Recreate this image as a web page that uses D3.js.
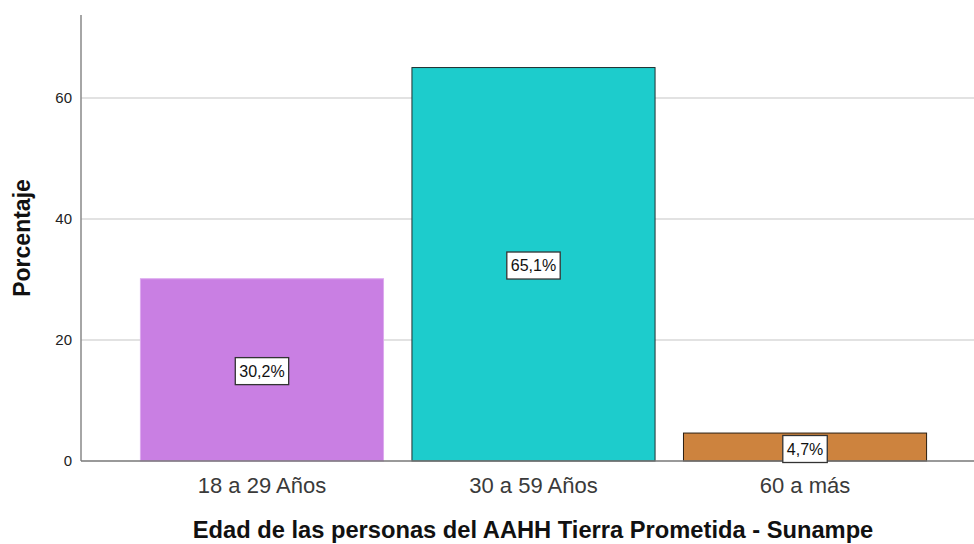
<!DOCTYPE html>
<html>
<head>
<meta charset="utf-8">
<script src="https://cdn.jsdelivr.net/npm/d3@7"></script>
<style>
  body { margin: 0; background: #fff; }
  svg { font-family: "Liberation Sans", Arial, sans-serif; }
</style>
</head>
<body>
<svg id="chart" width="974" height="544"></svg>
<script>
// Data
const categories = ['18 a 29 Años', '30 a 59 Años', '60 a más'];
const values = [30.2, 65.1, 4.7];
const valueLabels = ['30,2%', '65,1%', '4,7%'];
const barColors = ['#c97fe3', '#1dcccc', '#cd833e'];
const barStrokes = ['#dca9ee', '#1f2f2f', '#2a1d10'];
const yTicks = [0, 20, 40, 60];

const svg = d3.select('#chart');
const y0 = 461, axisX = 81;

const y = d3.scaleLinear().domain([0, 73.7]).range([y0, 15]);
const x = d3.scaleBand()
    .domain(categories)
    .range([axisX, 986])
    .paddingInner(0.101)
    .paddingOuter(0.217);

// Gridlines
svg.append('g').selectAll('line')
    .data(yTicks.filter(d => d > 0))
    .enter().append('line')
    .attr('x1', axisX).attr('x2', 974)
    .attr('y1', d => y(d)).attr('y2', d => y(d))
    .attr('stroke', '#d9d9d9').attr('stroke-width', 1.5);

// Bars
svg.append('g').selectAll('rect')
    .data(values)
    .enter().append('rect')
    .attr('x', (d, i) => x(categories[i]) + 0.5)
    .attr('y', d => y(d) + 0.5)
    .attr('width', x.bandwidth() - 1)
    .attr('height', d => y0 - y(d) - 0.5)
    .attr('fill', (d, i) => barColors[i])
    .attr('stroke', (d, i) => barStrokes[i])
    .attr('stroke-width', 1);

// Axes lines
svg.append('line')
    .attr('x1', axisX).attr('x2', axisX)
    .attr('y1', 15).attr('y2', y0)
    .attr('stroke', '#888').attr('stroke-width', 1.5);
svg.append('line')
    .attr('x1', axisX).attr('x2', 974)
    .attr('y1', y0).attr('y2', y0)
    .attr('stroke', '#777').attr('stroke-width', 1.5);

// Y tick labels
svg.append('g').selectAll('text')
    .data(yTicks)
    .enter().append('text')
    .attr('x', 72)
    .attr('y', d => y(d))
    .attr('dy', '0.35em')
    .attr('text-anchor', 'end')
    .style('font-size', '15px')
    .style('fill', '#222')
    .text(d => d);

// X tick labels
svg.append('g').selectAll('text')
    .data(categories)
    .enter().append('text')
    .attr('x', d => x(d) + x.bandwidth() / 2)
    .attr('y', 493)
    .attr('text-anchor', 'middle')
    .style('font-size', '22px')
    .style('fill', '#3a3a3a')
    .text(d => d);

// Value labels with boxes
const lbl = svg.append('g').selectAll('g')
    .data(values)
    .enter().append('g')
    .attr('transform', (d, i) => {
        const cx = x(categories[i]) + x.bandwidth() / 2;
        const cy = i === 2 ? 449 : (y(d) + y0) / 2 + 1.5;
        return `translate(${cx},${cy})`;
    });

lbl.append('text')
    .attr('text-anchor', 'middle')
    .attr('dy', '0.35em')
    .style('font-size', '16px')
    .style('fill', '#111')
    .text((d, i) => valueLabels[i]);

lbl.each(function() {
    const g = d3.select(this);
    const bb = g.select('text').node().getBBox();
    g.insert('rect', 'text')
        .attr('x', bb.x - 4)
        .attr('y', -13.5)
        .attr('width', bb.width + 8)
        .attr('height', 27)
        .attr('fill', '#fff')
        .attr('stroke', '#333')
        .attr('stroke-width', 1.3);
});

// Axis titles
svg.append('text')
    .attr('transform', 'translate(30,238) rotate(-90)')
    .attr('text-anchor', 'middle')
    .style('font-size', '23px')
    .style('font-weight', 'bold')
    .style('fill', '#111')
    .text('Porcentaje');

svg.append('text')
    .attr('x', 533)
    .attr('y', 538)
    .attr('text-anchor', 'middle')
    .style('font-size', '23.7px')
    .style('font-weight', 'bold')
    .style('fill', '#111')
    .text('Edad de las personas del AAHH Tierra Prometida - Sunampe');
</script>
</body>
</html>
